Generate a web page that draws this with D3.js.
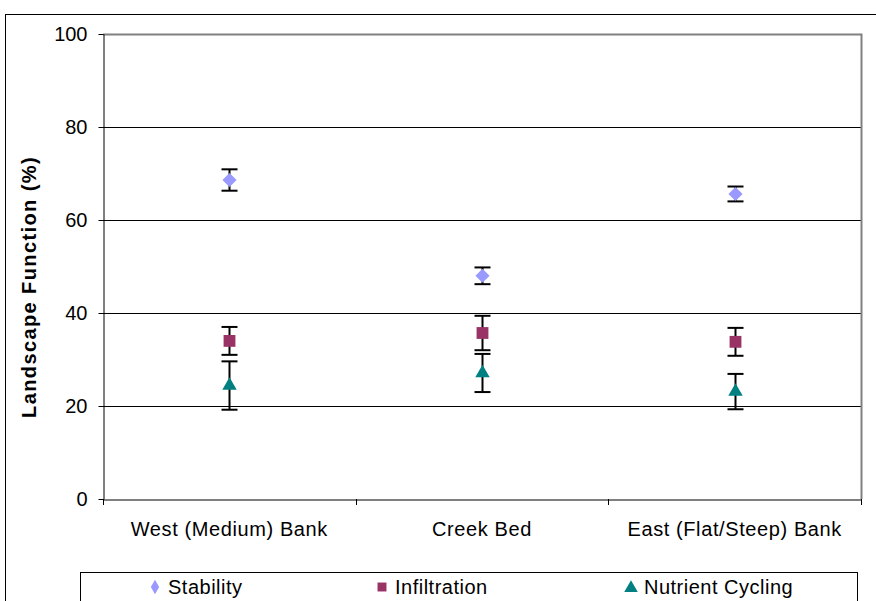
<!DOCTYPE html>
<html><head><meta charset="utf-8">
<script src="https://cdn.jsdelivr.net/npm/d3@7"></script>
<style>body{margin:0;background:#fff}svg{display:block;font-family:"Liberation Sans",Arial,sans-serif}</style>
</head><body>
<svg id="c" width="876" height="601"></svg>
<script>
const categories = ["West (Medium) Bank", "Creek Bed", "East (Flat/Steep) Bank"];
const seriesNames = ["Stability", "Infiltration", "Nutrient Cycling"];
const stability = [68.6, 48.0, 65.6];
const stabilityErr = [2.3, 1.8, 1.6];
const infiltration = [34.0, 35.7, 33.8];
const infiltrationErr = [3.0, 3.7, 3.0];
const nutrient = [24.4, 27.1, 23.1];
const nutrientErr = [5.2, 4.1, 3.8];
const yTicks = [0, 20, 40, 60, 80, 100];
const colors = ["#9999FF", "#993366", "#008080"];

const rhombus = { draw(ctx, size) { const r = Math.sqrt(size / 2); ctx.moveTo(0, -r); ctx.lineTo(r, 0); ctx.lineTo(0, r); ctx.lineTo(-r, 0); ctx.closePath(); } };
const shapes = [rhombus, d3.symbolSquare, d3.symbolTriangle];

const svg = d3.select("#c");
const L = 103, R = 861, T = 34, B = 499;
const x = d3.scaleBand().domain(categories).range([L, R]);
const y = d3.scaleLinear().domain([0, 100]).range([B, T]);
const FONT = "Liberation Sans, Arial, sans-serif";

svg.append("rect").attr("x", 5.5).attr("y", 14.5).attr("width", 900).attr("height", 700)
  .attr("fill", "none").attr("stroke", "#000");

svg.append("g").selectAll("line").data(yTicks.filter(d => d > 0 && d < 100)).join("line")
  .attr("x1", L).attr("x2", R).attr("y1", d => Math.round(y(d)) + 0.5).attr("y2", d => Math.round(y(d)) + 0.5)
  .attr("stroke", "#000");
svg.append("path").attr("d", `M${L},${T + 0.5}H${R + 0.5}V${B}`).attr("fill", "none").attr("stroke", "#808080").attr("stroke-width", 2);

const ya = svg.append("g").attr("transform", `translate(${L + 0.5},0)`)
  .call(d3.axisLeft(y).tickValues(yTicks).tickSize(5).tickSizeOuter(0).tickPadding(11));
ya.select(".domain").attr("stroke", "#000");
ya.selectAll(".tick line").attr("stroke", "#000");
ya.selectAll("text").attr("font-size", 20).attr("fill", "#000").attr("font-family", FONT);

const xa = svg.append("g").attr("transform", `translate(0,${B + 0.5})`)
  .call(d3.axisBottom(x).tickSize(0).tickPadding(22));
xa.select(".domain").attr("stroke", "#000");
xa.selectAll("text").attr("font-size", 20).attr("letter-spacing", 0.6).attr("fill", "#000").attr("font-family", FONT);
const bounds = categories.map(c => x(c)).concat([R]);
svg.append("g").selectAll("line").data(bounds).join("line")
  .attr("x1", d => Math.round(d) + 0.5).attr("x2", d => Math.round(d) + 0.5)
  .attr("y1", B).attr("y2", B + 6).attr("stroke", "#000");

svg.append("text").attr("transform", `translate(36,287) rotate(-90)`)
  .attr("text-anchor", "middle").attr("font-size", 20).attr("letter-spacing", 1.4)
  .attr("font-weight", "bold").text("Landscape Function (%)");

const data = [
  {vals: stability, errs: stabilityErr},
  {vals: infiltration, errs: infiltrationErr},
  {vals: nutrient, errs: nutrientErr}
];
const sizes = [100, 140, 90];
const cxOf = i => Math.round(x(categories[i]) + x.bandwidth() / 2) + 0.5;
data.forEach(s => {
  const g = svg.append("g");
  s.vals.forEach((v, i) => {
    const cx = cxOf(i), e = s.errs[i];
    const y1 = y(v + e), y2 = y(v - e);
    g.append("line").attr("x1", cx).attr("x2", cx).attr("y1", y1).attr("y2", y2).attr("stroke", "#000").attr("stroke-width", 2);
    [y1, y2].forEach(yy => g.append("line").attr("x1", cx - 8).attr("x2", cx + 8).attr("y1", yy).attr("y2", yy).attr("stroke", "#000").attr("stroke-width", 2));
  });
});
data.forEach((s, si) => {
  svg.append("g").selectAll("path").data(s.vals).join("path")
    .attr("transform", (d, i) => `translate(${cxOf(i)},${y(d)})`)
    .attr("d", d3.symbol().type(shapes[si]).size(sizes[si]))
    .attr("fill", colors[si]);
});

svg.append("rect").attr("x", 80.5).attr("y", 572.5).attr("width", 777).attr("height", 40)
  .attr("fill", "#fff").attr("stroke", "#000");
const legX = [155, 382, 631];
const legSizes = [60, 80, 80];
seriesNames.forEach((n, i) => {
  svg.append("path").attr("transform", `translate(${legX[i]},${i === 2 ? 588 : 587})`)
    .attr("d", d3.symbol().type(i === 0 ? d3.symbolDiamond : shapes[i]).size(legSizes[i])).attr("fill", colors[i]);
  svg.append("text").attr("x", legX[i] + 13).attr("y", 594).attr("font-size", 20).attr("letter-spacing", 0.5)
    .attr("font-family", FONT).text(n);
});
</script>
</body></html>
